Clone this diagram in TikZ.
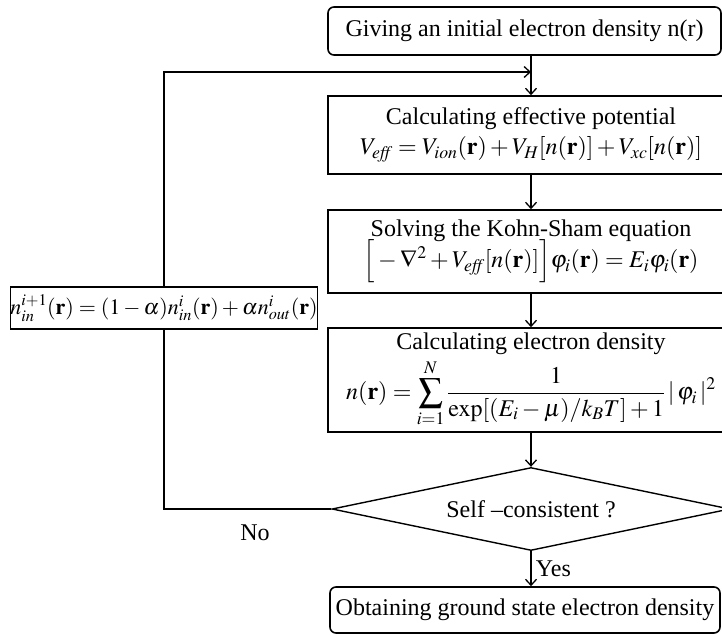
\documentclass[tikz,border=0pt]{standalone}
\usepackage{amsmath}
\usepackage{mathptmx}
\usepackage[no-math]{fontspec}
\setmainfont{Liberation Serif}
\usetikzlibrary{shapes.geometric,arrows.meta}

\begin{document}
\begin{tikzpicture}[x=1pt,y=-1pt,
    every node/.style={font=\fontsize{24}{29}\selectfont},
    procbox/.style={draw,line width=1.6pt,minimum width=406pt,inner sep=0pt,align=center},
    termbox/.style={draw,line width=1.6pt,rounded corners=6pt,minimum width=393pt,inner sep=0pt},
    decide/.style={draw,diamond,line width=1.4pt,minimum width=398pt,minimum height=83pt,
                   inner sep=0pt,shape aspect=4.8},
    flow/.style={line width=1.3pt,-{Straight Barb[length=6pt,width=11pt]}}]
    \useasboundingbox (0,0) rectangle (722,635);
    \clip (0,0) rectangle (722,635);
    % Boxes of the loop, top to bottom
    \node[termbox,minimum height=48pt] (start) at (524.5,31) {Giving an initial electron density n(r)};
    \node[procbox,minimum height=78pt] (potential) at (531,135)
        {Calculating effective potential\\[1pt]
         $V_{\mathit{eff}}=V_{\mathit{ion}}(\mathbf{r})+V_{H}[n(\mathbf{r})]+V_{xc}[n(\mathbf{r})]$};
    \node[procbox,minimum height=83pt] (kohnsham) at (531,251.5)
        {Solving the Kohn-Sham equation\\[-3pt]
         $\Big[-\nabla^{2}+V_{\mathit{eff}}[n(\mathbf{r})]\Big]\varphi_{i}(\mathbf{r})=E_{i}\varphi_{i}(\mathbf{r})$};
    \node[procbox,minimum height=104pt] (density) at (531,380)
        {Calculating electron density\\[4pt]
         $\displaystyle n(\mathbf{r})=\sum_{i=1}^{N}\frac{1}{\exp[(E_{i}-\mu)/k_{B}T]+1}\,|\,\varphi_{i}\,|^{2}$};
    \node[decide] (check) at (531,509) {Self \textendash consistent ?};
    \node[termbox,minimum width=390pt,minimum height=46pt] (finish) at (525,610)
        {Obtaining ground state electron density};
    % Mixing on the way back
    \node[draw,line width=1.6pt,minimum width=301pt,minimum height=42pt,inner sep=0pt,
          font=\fontsize{22}{26}\selectfont] (mix) at (164,308)
        {$n_{in}^{i+1}(\mathbf{r})=(1-\alpha)n_{in}^{i}(\mathbf{r})+\alpha n_{out}^{i}(\mathbf{r})$};
    \coordinate (join) at (531,72);
    % Connectors
    \draw[flow] (start.south -| potential) -- (potential);
    \draw[flow] (potential) -- (kohnsham);
    \draw[flow] (kohnsham) -- (density);
    \draw[flow] (density) -- (check);
    \draw[flow] (check.south) -- node[right=1pt] (yes) {Yes} (check.south |- finish.north);
    \draw[line width=1.3pt] (check.west) -| (mix.south);
    \draw[flow] (mix.north) |- (join);
    \node (no) at (255,533) {No};
\end{tikzpicture}
\end{document}
